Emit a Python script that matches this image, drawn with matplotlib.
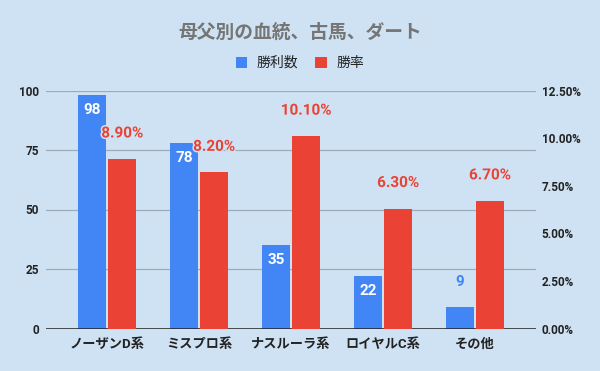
import matplotlib
matplotlib.use("Agg")
import matplotlib.pyplot as plt
import matplotlib.patheffects as pe
import numpy as np

categories = ["ノーザンD系", "ミスプロ系", "ナスルーラ系", "ロイヤルC系", "その他"]
wins = [98, 78, 35, 22, 9]
win_rate = [8.90, 8.20, 10.10, 6.30, 6.70]
left_ticks = [0, 25, 50, 75, 100]
right_ticks = [0.0, 2.5, 5.0, 7.5, 10.0, 12.5]
title = "母父別の血統、古馬、ダート"
series_names = ["勝利数", "勝率"]

BG = "#cfe2f3"
BLUE = "#4285f4"
RED = "#ea4335"
FONTS = ["Roboto", "Noto Sans CJK JP", "DejaVu Sans"]
plt.rcParams["font.family"] = FONTS

fig = plt.figure(figsize=(6.0, 3.71), dpi=100, facecolor=BG)
ax = fig.add_axes([46 / 600, 1 - 328.5 / 371, 490 / 600, 238 / 371])
ax.set_facecolor(BG)
ax2 = ax.twinx()

x = np.arange(len(categories))
w = 0.30
off = 0.164

b1 = ax.bar(x - off, wins, width=w, color=BLUE, zorder=3, label=series_names[0])
b2 = ax2.bar(x + off, win_rate, width=w, color=RED, zorder=3, label=series_names[1])

ax.set_xlim(-0.665, len(categories) - 1 + 0.665)
ax.set_ylim(0, 100)
ax2.set_ylim(0, 12.5)
ax.set_yticks(left_ticks)
ax.set_yticklabels([str(t) for t in left_ticks], fontsize=8.5, fontweight="bold", color="#222222")
ax2.set_yticks(right_ticks)
ax2.set_yticklabels([f"{t:.2f}%" for t in right_ticks], fontsize=8.5, fontweight="bold", color="#222222")
ax.set_xticks(x)
ax.set_xticklabels(categories, fontsize=9.5, fontweight="bold", color="#222222")
ax.tick_params(axis="y", length=0, pad=5)
ax2.tick_params(axis="y", length=0, pad=4)
ax.tick_params(axis="x", length=0, pad=7)

ax.yaxis.grid(True, color="#9eacba", linewidth=0.9, zorder=0)
ax.set_axisbelow(True)
for a in (ax, ax2):
    for s in ("top", "left", "right", "bottom"):
        a.spines[s].set_visible(False)
ax.axhline(0, color="#222222", linewidth=1.1, zorder=4)

halo = [pe.withStroke(linewidth=2.2, foreground=BG)]
for xi, v in zip(x, wins):
    if v >= 15:
        ax.annotate(str(v), (xi - off, v), xytext=(0, -10.8), textcoords="offset points",
                    ha="center", va="center", fontsize=11, fontweight="bold", color="white", zorder=5)
    else:
        ax.annotate(str(v), (xi - off, v), xytext=(0, 18.2), textcoords="offset points",
                    ha="center", va="center", fontsize=11, fontweight="bold", color=BLUE, zorder=5)
for xi, v in zip(x, win_rate):
    ax2.annotate(f"{v:.2f}%", (xi + off, v), xytext=(0, 18.4), textcoords="offset points",
                 ha="center", va="center", fontsize=11, fontweight="bold", color=RED, zorder=6,
                 path_effects=halo)

fig.text(0.5, 1 - 33 / 371, title, ha="center", va="center", fontsize=13.5,
         fontweight="bold", color="#757575")

fig.legend([b1, b2], series_names, loc="center", bbox_to_anchor=(0.5, 1 - 63 / 371),
           ncol=2, frameon=False, handlelength=0.84, handleheight=0.84,
           handletextpad=0.7, columnspacing=1.2, prop={"size": 10, "family": FONTS},
           labelcolor="#222222")

fig.savefig("out.png", dpi=100, facecolor=BG)
